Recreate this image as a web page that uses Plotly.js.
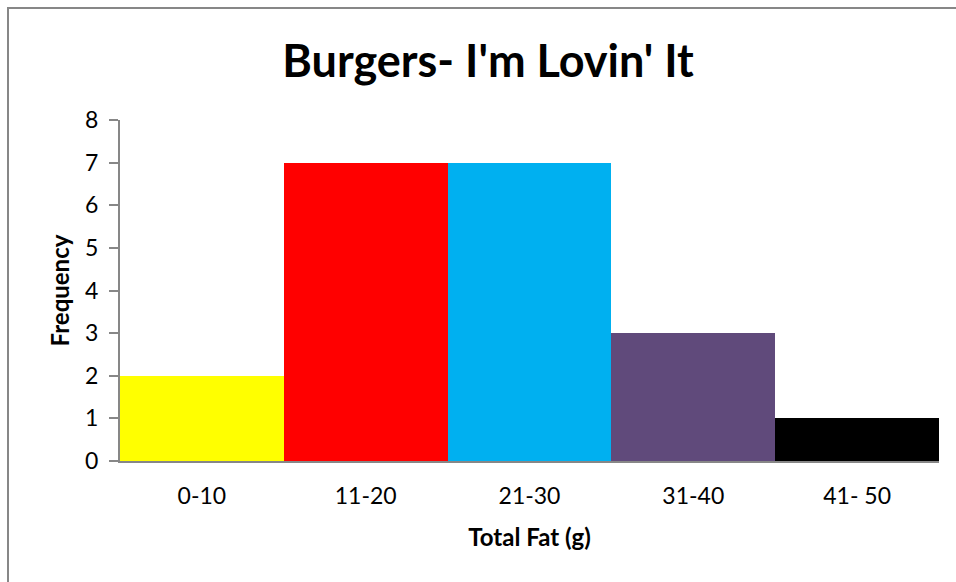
<!DOCTYPE html>
<html><head><meta charset="utf-8">
<script src="https://cdn.plot.ly/plotly-3.0.1.min.js"></script>
<style>
html,body{margin:0;padding:0;width:956px;height:582px;overflow:hidden;background:#fff;}
#frame{position:absolute;left:7px;top:7px;width:1100px;height:800px;border:2px solid #878787;box-sizing:border-box;}
#chart{position:absolute;left:0;top:0;width:956px;height:582px;}
</style></head>
<body>
<div id="frame"></div>
<div id="chart"></div>
<script>
const categories = ["0-10", "11-20", "21-30", "31-40", "41- 50"];
const frequency = [2, 7, 7, 3, 1];
const barColors = ["#FFFF00", "#FF0000", "#00B0F0", "#604A7B", "#000000"];
const yTicks = [0, 1, 2, 3, 4, 5, 6, 7, 8];

const font = "Lato, 'Open Sans', sans-serif";
Plotly.newPlot("chart", [{
  type: "bar",
  x: categories,
  y: frequency,
  marker: {color: barColors, line: {width: 0}},
  hoverinfo: "x+y"
}], {
  width: 956, height: 582,
  paper_bgcolor: "rgba(0,0,0,0)", plot_bgcolor: "rgba(0,0,0,0)",
  margin: {l: 120, r: 17, t: 120, b: 121},
  bargap: 0,
  showlegend: false,
  font: {family: font, color: "#000"},
  title: {text: "<b>Burgers- I'm Lovin' It</b>", font: {size: 45, family: font, color: "#000"},
          x: 488/956, xref: "container", xanchor: "center", y: 1 - 61/582, yref: "container", yanchor: "middle"},
  xaxis: {
    type: "category", showgrid: false, zeroline: false,
    showline: true, linecolor: "#878787", linewidth: 2,
    ticks: "", tickfont: {size: 23, family: font},
    ticklabelstandoff: 13,
    title: {text: "<b>Total Fat (g)</b>", font: {size: 24, family: font}, standoff: 22}
  },
  yaxis: {
    range: [0, 8], tickvals: yTicks, showgrid: false, zeroline: false,
    showline: true, linecolor: "#878787", linewidth: 2,
    ticks: "outside", ticklen: 9, tickcolor: "#878787", tickwidth: 2,
    tickfont: {size: 23, family: font},
    ticklabelstandoff: 6,
    title: {text: "<b>Frequency</b>", font: {size: 24, family: font}, standoff: 9}
  }
}, {staticPlot: true});
</script>
</body></html>
